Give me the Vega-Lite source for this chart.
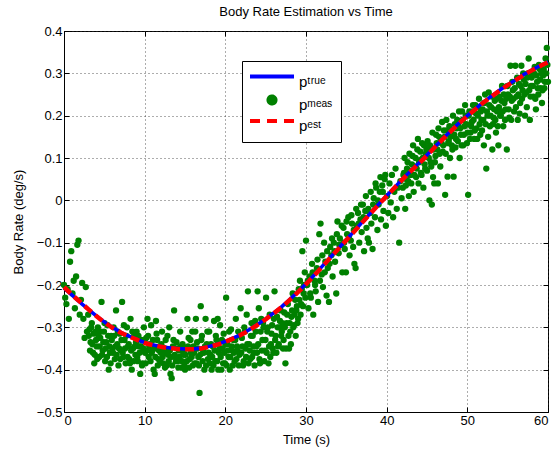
{
  "$schema": "https://vega.github.io/schema/vega-lite/v6.json",
  "autosize": {"type": "none"},
  "width": 484,
  "height": 381,
  "padding": {"left": 64, "top": 31, "right": 8, "bottom": 46},
  "background": "white",
  "title": {"text": "Body Rate Estimation vs Time", "font": "Liberation Sans", "fontSize": 13, "fontWeight": "normal", "color": "#000", "offset": 6},
  "config": {
    "view": {"stroke": "#000", "strokeWidth": 1},
    "axis": {"labelFont": "Liberation Sans", "titleFont": "Liberation Sans", "labelFontSize": 13, "titleFontSize": 13, "titleFontWeight": "normal", "labelColor": "#000", "titleColor": "#000", "domainColor": "#000", "tickColor": "#000", "gridColor": "#333", "gridDash": [1, 3], "gridOpacity": 0.8, "gridWidth": 1, "tickSize": -5, "labelPadding": 7},
    "legend": {"labelFont": "Liberation Sans", "labelFontSize": 15}
  },
  "datasets": {
    "meas": [
{"t":0,"v":-0.2},{"t":0.15,"v":-0.23},{"t":0.3,"v":-0.245},{"t":0.45,"v":-0.21},{"t":0.6,"v":-0.28},{"t":0.75,"v":-0.145},{"t":0.9,"v":-0.12},{"t":1.05,"v":-0.22},{"t":1.2,"v":-0.19},{"t":1.35,"v":-0.255},{"t":1.5,"v":-0.18},{"t":1.65,"v":-0.105},{"t":1.8,"v":-0.095},{"t":1.95,"v":-0.27},{"t":2.1,"v":-0.235},{"t":2.25,"v":-0.195},{"t":2.4,"v":-0.28},{"t":2.55,"v":-0.325},{"t":2.7,"v":-0.205},{"t":2.85,"v":-0.31},
{"t":3,"v":-0.27},{"t":3.15,"v":-0.305},{"t":3.3,"v":-0.335},{"t":3.45,"v":-0.29},{"t":3.6,"v":-0.36},{"t":3.75,"v":-0.385},{"t":3.9,"v":-0.31},{"t":4.05,"v":-0.345},{"t":4.2,"v":-0.3},{"t":4.35,"v":-0.37},{"t":4.5,"v":-0.325},{"t":4.65,"v":-0.24},{"t":4.8,"v":-0.355},{"t":4.95,"v":-0.31},{"t":5.1,"v":-0.38},{"t":5.25,"v":-0.335},{"t":5.4,"v":-0.295},{"t":5.55,"v":-0.4},{"t":5.7,"v":-0.36},{"t":5.85,"v":-0.32},
{"t":6,"v":-0.35},{"t":6.15,"v":-0.3},{"t":6.3,"v":-0.375},{"t":6.45,"v":-0.26},{"t":6.6,"v":-0.34},{"t":6.75,"v":-0.39},{"t":6.9,"v":-0.315},{"t":7.05,"v":-0.355},{"t":7.2,"v":-0.24},{"t":7.35,"v":-0.37},{"t":7.5,"v":-0.33},{"t":7.65,"v":-0.385},{"t":7.8,"v":-0.3},{"t":7.95,"v":-0.345},{"t":8.1,"v":-0.375},{"t":8.25,"v":-0.28},{"t":8.4,"v":-0.4},{"t":8.55,"v":-0.35},{"t":8.7,"v":-0.32},{"t":8.85,"v":-0.365},
{"t":9,"v":-0.31},{"t":9.15,"v":-0.38},{"t":9.3,"v":-0.345},{"t":9.45,"v":-0.41},{"t":9.6,"v":-0.33},{"t":9.75,"v":-0.385},{"t":9.9,"v":-0.3},{"t":10.05,"v":-0.36},{"t":10.2,"v":-0.325},{"t":10.35,"v":-0.28},{"t":10.5,"v":-0.37},{"t":10.65,"v":-0.34},{"t":10.8,"v":-0.295},{"t":10.95,"v":-0.355},{"t":11.1,"v":-0.4},{"t":11.25,"v":-0.41},{"t":11.4,"v":-0.285},{"t":11.55,"v":-0.33},{"t":11.7,"v":-0.375},{"t":11.85,"v":-0.345},
{"t":12,"v":-0.36},{"t":12.15,"v":-0.31},{"t":12.3,"v":-0.385},{"t":12.45,"v":-0.35},{"t":12.6,"v":-0.33},{"t":12.75,"v":-0.39},{"t":12.9,"v":-0.365},{"t":13.05,"v":-0.3},{"t":13.2,"v":-0.41},{"t":13.35,"v":-0.42},{"t":13.5,"v":-0.345},{"t":13.65,"v":-0.26},{"t":13.8,"v":-0.37},{"t":13.95,"v":-0.335},{"t":14.1,"v":-0.38},{"t":14.25,"v":-0.355},{"t":14.4,"v":-0.31},{"t":14.55,"v":-0.395},{"t":14.7,"v":-0.34},{"t":14.85,"v":-0.365},
{"t":15,"v":-0.4},{"t":15.15,"v":-0.35},{"t":15.3,"v":-0.28},{"t":15.45,"v":-0.325},{"t":15.6,"v":-0.375},{"t":15.75,"v":-0.36},{"t":15.9,"v":-0.31},{"t":16.05,"v":-0.345},{"t":16.2,"v":-0.385},{"t":16.35,"v":-0.28},{"t":16.5,"v":-0.335},{"t":16.65,"v":-0.37},{"t":16.8,"v":-0.455},{"t":16.95,"v":-0.25},{"t":17.1,"v":-0.32},{"t":17.25,"v":-0.355},{"t":17.4,"v":-0.4},{"t":17.55,"v":-0.28},{"t":17.7,"v":-0.34},{"t":17.85,"v":-0.375},
{"t":18,"v":-0.31},{"t":18.15,"v":-0.365},{"t":18.3,"v":-0.4},{"t":18.45,"v":-0.345},{"t":18.6,"v":-0.285},{"t":18.75,"v":-0.38},{"t":18.9,"v":-0.33},{"t":19.05,"v":-0.28},{"t":19.2,"v":-0.36},{"t":19.35,"v":-0.295},{"t":19.5,"v":-0.4},{"t":19.65,"v":-0.35},{"t":19.8,"v":-0.315},{"t":19.95,"v":-0.385},{"t":20.1,"v":-0.23},{"t":20.25,"v":-0.34},{"t":20.4,"v":-0.37},{"t":20.55,"v":-0.4},{"t":20.7,"v":-0.305},{"t":20.85,"v":-0.355},
{"t":21,"v":-0.33},{"t":21.15,"v":-0.38},{"t":21.3,"v":-0.28},{"t":21.45,"v":-0.345},{"t":21.6,"v":-0.31},{"t":21.75,"v":-0.365},{"t":21.9,"v":-0.255},{"t":22.05,"v":-0.325},{"t":22.2,"v":-0.39},{"t":22.35,"v":-0.3},{"t":22.5,"v":-0.35},{"t":22.65,"v":-0.27},{"t":22.8,"v":-0.215},{"t":22.95,"v":-0.34},{"t":23.1,"v":-0.375},{"t":23.25,"v":-0.29},{"t":23.4,"v":-0.32},{"t":23.55,"v":-0.36},{"t":23.7,"v":-0.285},{"t":23.85,"v":-0.345},
{"t":24,"v":-0.215},{"t":24.15,"v":-0.255},{"t":24.3,"v":-0.385},{"t":24.45,"v":-0.28},{"t":24.6,"v":-0.33},{"t":24.75,"v":-0.3},{"t":24.9,"v":-0.355},{"t":25.05,"v":-0.23},{"t":25.2,"v":-0.31},{"t":25.35,"v":-0.385},{"t":25.5,"v":-0.27},{"t":25.65,"v":-0.34},{"t":25.8,"v":-0.295},{"t":25.95,"v":-0.36},{"t":26.1,"v":-0.215},{"t":26.25,"v":-0.32},{"t":26.4,"v":-0.275},{"t":26.55,"v":-0.345},{"t":26.7,"v":-0.3},{"t":26.85,"v":-0.26},
{"t":27,"v":-0.31},{"t":27.15,"v":-0.35},{"t":27.3,"v":-0.265},{"t":27.45,"v":-0.385},{"t":27.6,"v":-0.29},{"t":27.75,"v":-0.245},{"t":27.9,"v":-0.35},{"t":28.05,"v":-0.31},{"t":28.2,"v":-0.275},{"t":28.35,"v":-0.22},{"t":28.5,"v":-0.295},{"t":28.65,"v":-0.235},{"t":28.8,"v":-0.26},{"t":28.95,"v":-0.29},{"t":29.1,"v":-0.21},{"t":29.25,"v":-0.19},{"t":29.4,"v":-0.245},{"t":29.55,"v":-0.12},{"t":29.7,"v":-0.22},{"t":29.85,"v":-0.17},
{"t":30,"v":-0.095},{"t":30.15,"v":-0.2},{"t":30.3,"v":-0.255},{"t":30.45,"v":-0.18},{"t":30.6,"v":-0.23},{"t":30.75,"v":-0.15},{"t":30.9,"v":-0.27},{"t":31.05,"v":-0.19},{"t":31.2,"v":-0.215},{"t":31.35,"v":-0.16},{"t":31.5,"v":-0.24},{"t":31.65,"v":-0.08},{"t":31.8,"v":-0.055},{"t":31.95,"v":-0.175},{"t":32.1,"v":-0.205},{"t":32.25,"v":-0.1},{"t":32.4,"v":-0.145},{"t":32.55,"v":-0.225},{"t":32.7,"v":-0.16},{"t":32.85,"v":-0.24},
{"t":33,"v":-0.11},{"t":33.15,"v":-0.13},{"t":33.3,"v":-0.18},{"t":33.45,"v":-0.1},{"t":33.6,"v":-0.145},{"t":33.75,"v":-0.22},{"t":33.9,"v":-0.05},{"t":34.05,"v":-0.125},{"t":34.2,"v":-0.09},{"t":34.35,"v":-0.105},{"t":34.5,"v":-0.17},{"t":34.65,"v":-0.065},{"t":34.8,"v":-0.115},{"t":34.95,"v":-0.17},{"t":35.1,"v":-0.08},{"t":35.25,"v":-0.04},{"t":35.4,"v":-0.13},{"t":35.55,"v":-0.095},{"t":35.7,"v":-0.055},{"t":35.85,"v":-0.11},
{"t":36,"v":-0.15},{"t":36.15,"v":-0.16},{"t":36.3,"v":-0.06},{"t":36.45,"v":-0.03},{"t":36.6,"v":-0.1},{"t":36.75,"v":-0.045},{"t":36.9,"v":-0.075},{"t":37.05,"v":-0.01},{"t":37.2,"v":-0.12},{"t":37.35,"v":-0.025},{"t":37.5,"v":-0.065},{"t":37.65,"v":-0.09},{"t":37.8,"v":-0.1},{"t":37.95,"v":-0.03},{"t":38.1,"v":-0.055},{"t":38.25,"v":-0.115},{"t":38.4,"v":0.005},{"t":38.55,"v":-0.04},{"t":38.7,"v":0.03},{"t":38.85,"v":-0.07},
{"t":39,"v":-0.01},{"t":39.15,"v":0.02},{"t":39.3,"v":-0.045},{"t":39.45,"v":0.035},{"t":39.6,"v":-0.025},{"t":39.75,"v":0.05},{"t":39.9,"v":-0.06},{"t":40.05,"v":0.01},{"t":40.2,"v":-0.03},{"t":40.35,"v":0.04},{"t":40.5,"v":-0.005},{"t":40.65,"v":0.06},{"t":40.8,"v":-0.04},{"t":40.95,"v":0.02},{"t":41.1,"v":0.075},{"t":41.25,"v":-0.02},{"t":41.4,"v":0.03},{"t":41.55,"v":-0.1},{"t":41.7,"v":0.045},{"t":41.85,"v":0.005},
{"t":42,"v":0.03},{"t":42.15,"v":0.065},{"t":42.3,"v":-0.02},{"t":42.45,"v":0.05},{"t":42.6,"v":0.09},{"t":42.75,"v":0.01},{"t":42.9,"v":0.07},{"t":43.05,"v":0.04},{"t":43.2,"v":0.105},{"t":43.35,"v":0.02},{"t":43.5,"v":0.08},{"t":43.65,"v":0.055},{"t":43.8,"v":0.12},{"t":43.95,"v":0.04},{"t":44.1,"v":0.095},{"t":44.25,"v":0.065},{"t":44.4,"v":0.135},{"t":44.55,"v":0.03},{"t":44.7,"v":0.085},{"t":44.85,"v":0.11},
{"t":45,"v":0.07},{"t":45.15,"v":0.12},{"t":45.3,"v":0},{"t":45.45,"v":0.09},{"t":45.6,"v":-0.01},{"t":45.75,"v":0.055},{"t":45.9,"v":0.04},{"t":46.05,"v":0.105},{"t":46.2,"v":0.135},{"t":46.35,"v":0.04},{"t":46.5,"v":0.15},{"t":46.65,"v":0.08},{"t":46.8,"v":0.135},{"t":46.95,"v":0.115},{"t":47.1,"v":0.165},{"t":47.25,"v":0.013},{"t":47.4,"v":0.19},{"t":47.55,"v":0.056},{"t":47.7,"v":0.14},{"t":47.85,"v":0.1},
{"t":48,"v":0.165},{"t":48.15,"v":0.12},{"t":48.3,"v":0.056},{"t":48.45,"v":0.18},{"t":48.6,"v":0.145},{"t":48.75,"v":0.19},{"t":48.9,"v":0.175},{"t":49.05,"v":0.1},{"t":49.2,"v":0.155},{"t":49.35,"v":0.21},{"t":49.5,"v":0.13},{"t":49.65,"v":0.175},{"t":49.8,"v":0.2},{"t":49.95,"v":0.135},{"t":50.1,"v":0.013},{"t":50.25,"v":0.21},{"t":50.4,"v":0.16},{"t":50.55,"v":0.185},{"t":50.7,"v":0.225},{"t":50.85,"v":0.145},
{"t":51,"v":0.225},{"t":51.15,"v":0.17},{"t":51.3,"v":0.2},{"t":51.45,"v":0.24},{"t":51.6,"v":0.155},{"t":51.75,"v":0.19},{"t":51.9,"v":0.215},{"t":52.05,"v":0.13},{"t":52.2,"v":0.25},{"t":52.35,"v":0.075},{"t":52.5,"v":0.2},{"t":52.65,"v":0.255},{"t":52.8,"v":0.175},{"t":52.95,"v":0.22},{"t":53.1,"v":0.12},{"t":53.25,"v":0.195},{"t":53.4,"v":0.235},{"t":53.55,"v":0.16},{"t":53.7,"v":0.21},{"t":53.85,"v":0.13},
{"t":54,"v":0.245},{"t":54.15,"v":0.2},{"t":54.3,"v":0.27},{"t":54.45,"v":0.175},{"t":54.6,"v":0.23},{"t":54.75,"v":0.215},{"t":54.9,"v":0.12},{"t":55.05,"v":0.25},{"t":55.2,"v":0.195},{"t":55.35,"v":0.318},{"t":55.5,"v":0.235},{"t":55.65,"v":0.26},{"t":55.8,"v":0.21},{"t":55.95,"v":0.318},{"t":56.1,"v":0.245},{"t":56.25,"v":0.19},{"t":56.4,"v":0.275},{"t":56.55,"v":0.23},{"t":56.7,"v":0.318},{"t":56.85,"v":0.26},
{"t":57,"v":0.285},{"t":57.15,"v":0.2},{"t":57.3,"v":0.255},{"t":57.45,"v":0.29},{"t":57.6,"v":0.335},{"t":57.75,"v":0.19},{"t":57.9,"v":0.27},{"t":58.05,"v":0.3},{"t":58.2,"v":0.245},{"t":58.35,"v":0.315},{"t":58.5,"v":0.215},{"t":58.65,"v":0.28},{"t":58.8,"v":0.25},{"t":58.95,"v":0.31},{"t":59.1,"v":0.265},{"t":59.25,"v":0.23},{"t":59.4,"v":0.295},{"t":59.55,"v":0.265},{"t":59.7,"v":0.335},{"t":59.85,"v":0.36},{"t":60,"v":0.28},
{"t":3.075,"v":-0.32},{"t":3.225,"v":-0.355},{"t":3.375,"v":-0.3},{"t":3.525,"v":-0.34},{"t":3.675,"v":-0.315},{"t":3.825,"v":-0.365},{"t":3.975,"v":-0.33},{"t":4.125,"v":-0.375},{"t":4.275,"v":-0.32},{"t":4.425,"v":-0.345},{"t":4.575,"v":-0.31},{"t":4.725,"v":-0.365},{"t":4.875,"v":-0.335},{"t":5.025,"v":-0.29},{"t":5.175,"v":-0.35},{"t":5.325,"v":-0.37},{"t":5.475,"v":-0.32},{"t":5.625,"v":-0.345},{"t":5.775,"v":-0.385},{"t":5.925,"v":-0.33},
{"t":6.075,"v":-0.36},{"t":6.225,"v":-0.32},{"t":6.375,"v":-0.345},{"t":6.525,"v":-0.365},{"t":6.675,"v":-0.31},{"t":6.825,"v":-0.35},{"t":6.975,"v":-0.375},{"t":7.125,"v":-0.33},{"t":7.275,"v":-0.36},{"t":7.425,"v":-0.295},{"t":7.575,"v":-0.35},{"t":7.725,"v":-0.32},{"t":7.875,"v":-0.37},{"t":8.025,"v":-0.34},{"t":8.175,"v":-0.385},{"t":8.325,"v":-0.355},{"t":8.475,"v":-0.31},{"t":8.625,"v":-0.38},{"t":8.775,"v":-0.345},{"t":8.925,"v":-0.335},
{"t":9.075,"v":-0.37},{"t":9.225,"v":-0.32},{"t":9.375,"v":-0.36},{"t":9.525,"v":-0.345},{"t":9.675,"v":-0.39},{"t":9.825,"v":-0.35},{"t":9.975,"v":-0.33},{"t":10.125,"v":-0.385},{"t":10.275,"v":-0.355},{"t":10.425,"v":-0.32},{"t":10.575,"v":-0.345},{"t":10.725,"v":-0.38},{"t":10.875,"v":-0.36},{"t":11.025,"v":-0.33},{"t":11.175,"v":-0.35},{"t":11.325,"v":-0.37},{"t":11.475,"v":-0.315},{"t":11.625,"v":-0.39},{"t":11.775,"v":-0.355},{"t":11.925,"v":-0.38},
{"t":12.075,"v":-0.34},{"t":12.225,"v":-0.37},{"t":12.375,"v":-0.355},{"t":12.525,"v":-0.395},{"t":12.675,"v":-0.36},{"t":12.825,"v":-0.32},{"t":12.975,"v":-0.38},{"t":13.125,"v":-0.355},{"t":13.275,"v":-0.37},{"t":13.425,"v":-0.39},{"t":13.575,"v":-0.33},{"t":13.725,"v":-0.365},{"t":13.875,"v":-0.38},{"t":14.025,"v":-0.35},{"t":14.175,"v":-0.395},{"t":14.325,"v":-0.37},{"t":14.475,"v":-0.345},{"t":14.625,"v":-0.38},{"t":14.775,"v":-0.36},{"t":14.925,"v":-0.39},
{"t":15.075,"v":-0.365},{"t":15.225,"v":-0.38},{"t":15.375,"v":-0.345},{"t":15.525,"v":-0.395},{"t":15.675,"v":-0.33},{"t":15.825,"v":-0.37},{"t":15.975,"v":-0.39},{"t":16.125,"v":-0.36},{"t":16.275,"v":-0.31},{"t":16.425,"v":-0.385},{"t":16.575,"v":-0.35},{"t":16.725,"v":-0.39},{"t":16.875,"v":-0.365},{"t":17.025,"v":-0.33},{"t":17.175,"v":-0.38},{"t":17.325,"v":-0.36},{"t":17.475,"v":-0.345},{"t":17.625,"v":-0.39},{"t":17.775,"v":-0.31},{"t":17.925,"v":-0.36},
{"t":18.075,"v":-0.385},{"t":18.225,"v":-0.34},{"t":18.375,"v":-0.37},{"t":18.525,"v":-0.39},{"t":18.675,"v":-0.355},{"t":18.825,"v":-0.32},{"t":18.975,"v":-0.38},{"t":19.125,"v":-0.4},{"t":19.275,"v":-0.35},{"t":19.425,"v":-0.37},{"t":19.575,"v":-0.33},{"t":19.725,"v":-0.385},{"t":19.875,"v":-0.36},{"t":20.025,"v":-0.34},{"t":20.175,"v":-0.39},{"t":20.325,"v":-0.355},{"t":20.475,"v":-0.31},{"t":20.625,"v":-0.37},{"t":20.775,"v":-0.345},{"t":20.925,"v":-0.39},
{"t":21.075,"v":-0.36},{"t":21.225,"v":-0.33},{"t":21.375,"v":-0.375},{"t":21.525,"v":-0.355},{"t":21.675,"v":-0.39},{"t":21.825,"v":-0.32},{"t":21.975,"v":-0.36},{"t":22.125,"v":-0.345},{"t":22.275,"v":-0.38},{"t":22.425,"v":-0.31},{"t":22.575,"v":-0.37},{"t":22.725,"v":-0.34},{"t":22.875,"v":-0.385},{"t":23.025,"v":-0.355},{"t":23.175,"v":-0.32},{"t":23.325,"v":-0.37},{"t":23.475,"v":-0.345},{"t":23.625,"v":-0.39},{"t":23.775,"v":-0.31},{"t":23.925,"v":-0.36},
{"t":24.075,"v":-0.34},{"t":24.225,"v":-0.375},{"t":24.375,"v":-0.31},{"t":24.525,"v":-0.355},{"t":24.675,"v":-0.29},{"t":24.825,"v":-0.38},{"t":24.975,"v":-0.33},{"t":25.125,"v":-0.36},{"t":25.275,"v":-0.3},{"t":25.425,"v":-0.345},{"t":25.575,"v":-0.37},{"t":25.725,"v":-0.315},{"t":25.875,"v":-0.35},{"t":26.025,"v":-0.28},{"t":26.175,"v":-0.33},{"t":26.325,"v":-0.36},{"t":26.475,"v":-0.3},{"t":26.625,"v":-0.34},{"t":26.775,"v":-0.285},{"t":26.925,"v":-0.32},
{"t":27.075,"v":-0.29},{"t":27.225,"v":-0.33},{"t":27.375,"v":-0.3},{"t":27.525,"v":-0.35},{"t":27.675,"v":-0.27},{"t":27.825,"v":-0.32},{"t":27.975,"v":-0.29},{"t":28.125,"v":-0.34},{"t":28.275,"v":-0.26},{"t":28.425,"v":-0.3},{"t":28.575,"v":-0.27},{"t":28.725,"v":-0.32},{"t":28.875,"v":-0.25},{"t":29.025,"v":-0.28},{"t":29.175,"v":-0.235},{"t":29.325,"v":-0.27},{"t":29.475,"v":-0.21},{"t":29.625,"v":-0.25},{"t":29.775,"v":-0.2},{"t":29.925,"v":-0.23},
{"t":30.225,"v":-0.19},{"t":30.525,"v":-0.22},{"t":30.825,"v":-0.17},{"t":31.125,"v":-0.2},{"t":31.425,"v":-0.14},{"t":31.725,"v":-0.19},{"t":32.025,"v":-0.13},{"t":32.325,"v":-0.17},{"t":32.625,"v":-0.12},{"t":32.925,"v":-0.15},{"t":33.225,"v":-0.09},{"t":33.525,"v":-0.12},{"t":33.825,"v":-0.08},{"t":34.125,"v":-0.105},{"t":34.425,"v":-0.06},{"t":34.725,"v":-0.1},{"t":35.025,"v":-0.05},{"t":35.325,"v":-0.085},{"t":35.625,"v":-0.035},{"t":35.925,"v":-0.07},{"t":36.225,"v":-0.02},{"t":36.525,"v":-0.055},{"t":36.825,"v":-0.01},{"t":37.125,"v":-0.04},{"t":37.425,"v":0.01},{"t":37.725,"v":-0.02},{"t":38.025,"v":0.02},{"t":38.325,"v":-0.01},{"t":38.625,"v":0.04},{"t":38.925,"v":0},{"t":39.225,"v":0.055},{"t":39.525,"v":0.02},{"t":39.825,"v":0.06},
{"t":42.075,"v":0.06},{"t":42.225,"v":0.1},{"t":42.375,"v":0.035},{"t":42.525,"v":0.075},{"t":42.675,"v":0.045},{"t":42.825,"v":0.11},{"t":42.975,"v":0.06},{"t":43.125,"v":0.085},{"t":43.275,"v":0.13},{"t":43.425,"v":0.06},{"t":43.575,"v":0.1},{"t":43.725,"v":0.075},{"t":43.875,"v":0.145},{"t":44.025,"v":0.09},{"t":44.175,"v":0.115},{"t":44.325,"v":0.06},{"t":44.475,"v":0.1},{"t":44.625,"v":0.13},{"t":44.775,"v":0.075},{"t":44.925,"v":0.12},
{"t":45.075,"v":0.14},{"t":45.225,"v":0.1},{"t":45.375,"v":0.13},{"t":45.525,"v":0.08},{"t":45.675,"v":0.16},{"t":45.825,"v":0.12},{"t":45.975,"v":0.09},{"t":46.125,"v":0.155},{"t":46.275,"v":0.12},{"t":46.425,"v":0.17},{"t":46.575,"v":0.11},{"t":46.725,"v":0.14},{"t":46.875,"v":0.185},{"t":47.025,"v":0.13},{"t":47.175,"v":0.15},{"t":47.325,"v":0.11},{"t":47.475,"v":0.165},{"t":47.625,"v":0.135},{"t":47.775,"v":0.175},{"t":47.925,"v":0.15},
{"t":48.075,"v":0.13},{"t":48.225,"v":0.2},{"t":48.375,"v":0.155},{"t":48.525,"v":0.125},{"t":48.675,"v":0.17},{"t":48.825,"v":0.14},{"t":48.975,"v":0.21},{"t":49.125,"v":0.17},{"t":49.275,"v":0.13},{"t":49.425,"v":0.19},{"t":49.575,"v":0.155},{"t":49.725,"v":0.225},{"t":49.875,"v":0.18},{"t":50.025,"v":0.16},{"t":50.175,"v":0.2},{"t":50.325,"v":0.145},{"t":50.475,"v":0.175},{"t":50.625,"v":0.21},{"t":50.775,"v":0.19},{"t":50.925,"v":0.165},
{"t":51.075,"v":0.205},{"t":51.225,"v":0.145},{"t":51.375,"v":0.22},{"t":51.525,"v":0.18},{"t":51.675,"v":0.21},{"t":51.825,"v":0.165},{"t":51.975,"v":0.19},{"t":52.125,"v":0.23},{"t":52.275,"v":0.18},{"t":52.425,"v":0.21},{"t":52.575,"v":0.15},{"t":52.725,"v":0.225},{"t":52.875,"v":0.2},{"t":53.025,"v":0.245},{"t":53.175,"v":0.18},{"t":53.325,"v":0.215},{"t":53.475,"v":0.19},{"t":53.625,"v":0.24},{"t":53.775,"v":0.175},{"t":53.925,"v":0.22},
{"t":54.075,"v":0.2},{"t":54.225,"v":0.235},{"t":54.375,"v":0.21},{"t":54.525,"v":0.25},{"t":54.675,"v":0.19},{"t":54.825,"v":0.24},{"t":54.975,"v":0.27},{"t":55.125,"v":0.215},{"t":55.275,"v":0.245},{"t":55.425,"v":0.19},{"t":55.575,"v":0.28},{"t":55.725,"v":0.24},{"t":55.875,"v":0.265},{"t":56.025,"v":0.22},{"t":56.175,"v":0.29},{"t":56.325,"v":0.25},{"t":56.475,"v":0.205},{"t":56.625,"v":0.27},{"t":56.775,"v":0.24},{"t":56.925,"v":0.3},
{"t":57.075,"v":0.25},{"t":57.225,"v":0.275},{"t":57.375,"v":0.22},{"t":57.525,"v":0.3},{"t":57.675,"v":0.26},{"t":57.825,"v":0.245},{"t":57.975,"v":0.29},{"t":58.125,"v":0.27},{"t":58.275,"v":0.3},{"t":58.425,"v":0.24},{"t":58.575,"v":0.295},{"t":58.725,"v":0.265},{"t":58.875,"v":0.32},{"t":59.025,"v":0.285},{"t":59.175,"v":0.3},{"t":59.325,"v":0.26},{"t":59.475,"v":0.31},{"t":59.625,"v":0.28},{"t":59.775,"v":0.3},{"t":59.925,"v":0.32}
    ],
    "curve": [
{"t":0,"ptrue":-0.207,"pest":-0.205},{"t":1,"ptrue":-0.224,"pest":-0.223},{"t":2,"ptrue":-0.241,"pest":-0.24},{"t":3,"ptrue":-0.257,"pest":-0.257},{"t":4,"ptrue":-0.273,"pest":-0.273},{"t":5,"ptrue":-0.287,"pest":-0.288},{"t":6,"ptrue":-0.3,"pest":-0.301},{"t":7,"ptrue":-0.311,"pest":-0.312},{"t":8,"ptrue":-0.32,"pest":-0.321},{"t":9,"ptrue":-0.328,"pest":-0.329},{"t":10,"ptrue":-0.336,"pest":-0.337},{"t":11,"ptrue":-0.341,"pest":-0.342},{"t":12,"ptrue":-0.345,"pest":-0.346},{"t":13,"ptrue":-0.348,"pest":-0.349},{"t":14,"ptrue":-0.35,"pest":-0.351},{"t":15,"ptrue":-0.351,"pest":-0.352},{"t":16,"ptrue":-0.351,"pest":-0.352},{"t":17,"ptrue":-0.349,"pest":-0.35},{"t":18,"ptrue":-0.345,"pest":-0.346},{"t":19,"ptrue":-0.34,"pest":-0.341},{"t":20,"ptrue":-0.333,"pest":-0.334},{"t":21,"ptrue":-0.325,"pest":-0.326},{"t":22,"ptrue":-0.316,"pest":-0.317},{"t":23,"ptrue":-0.305,"pest":-0.306},{"t":24,"ptrue":-0.293,"pest":-0.294},{"t":25,"ptrue":-0.28,"pest":-0.281},{"t":26,"ptrue":-0.266,"pest":-0.267},{"t":27,"ptrue":-0.251,"pest":-0.252},{"t":28,"ptrue":-0.234,"pest":-0.235},{"t":29,"ptrue":-0.216,"pest":-0.217},{"t":30,"ptrue":-0.197,"pest":-0.198},{"t":31,"ptrue":-0.177,"pest":-0.178},{"t":32,"ptrue":-0.156,"pest":-0.157},{"t":33,"ptrue":-0.135,"pest":-0.136},{"t":34,"ptrue":-0.114,"pest":-0.115},{"t":35,"ptrue":-0.093,"pest":-0.094},{"t":36,"ptrue":-0.072,"pest":-0.073},{"t":37,"ptrue":-0.051,"pest":-0.052},{"t":38,"ptrue":-0.03,"pest":-0.031},{"t":39,"ptrue":-0.009,"pest":-0.01},{"t":40,"ptrue":0.011,"pest":0.01},{"t":41,"ptrue":0.031,"pest":0.03},{"t":42,"ptrue":0.051,"pest":0.05},{"t":43,"ptrue":0.07,"pest":0.069},{"t":44,"ptrue":0.088,"pest":0.087},{"t":45,"ptrue":0.107,"pest":0.106},{"t":46,"ptrue":0.127,"pest":0.126},{"t":47,"ptrue":0.146,"pest":0.145},{"t":48,"ptrue":0.165,"pest":0.164},{"t":49,"ptrue":0.183,"pest":0.182},{"t":50,"ptrue":0.2,"pest":0.199},{"t":51,"ptrue":0.216,"pest":0.215},{"t":52,"ptrue":0.232,"pest":0.231},{"t":53,"ptrue":0.246,"pest":0.245},{"t":54,"ptrue":0.26,"pest":0.259},{"t":55,"ptrue":0.273,"pest":0.272},{"t":56,"ptrue":0.285,"pest":0.284},{"t":57,"ptrue":0.297,"pest":0.296},{"t":58,"ptrue":0.308,"pest":0.307},{"t":59,"ptrue":0.318,"pest":0.317},{"t":60,"ptrue":0.327,"pest":0.326}
    ]
  },
  "layer": [
    {
      "data": {"name": "meas"},
      "mark": {"type": "point", "filled": true, "size": 40, "opacity": 1},
      "encoding": {
        "x": {"field": "t", "type": "quantitative", "scale": {"domain": [0, 60], "nice": false, "zero": false},
          "axis": {"orient": "bottom", "values": [0, 10, 20, 30, 40, 50, 60], "title": "Time (s)", "titlePadding": 6, "grid": true, "format": "d"}},
        "y": {"field": "v", "type": "quantitative", "scale": {"domain": [-0.5, 0.4], "nice": false, "zero": false},
          "axis": {"orient": "left", "values": [-0.5, -0.4, -0.3, -0.2, -0.1, 0, 0.1, 0.2, 0.3, 0.4], "title": "Body Rate (deg/s)", "titlePadding": 11, "grid": true, "format": "~g"}},
        "color": {"datum": "pᵐᵉᵃˢ", "type": "nominal",
          "scale": {"domain": ["pᵗʳᵘᵉ", "pᵐᵉᵃˢ", "pᵉˢᵗ"], "range": ["#0000ff", "#008000", "#ff0000"]},
          "legend": {
            "title": null, "orient": "none", "legendX": 178, "legendY": 30,
            "strokeColor": "#000", "fillColor": "#fff", "padding": 8,
            "symbolType": "stroke", "symbolSize": 100, "symbolStrokeWidth": 4,
            "labelOffset": 5, "rowPadding": -2.5,
            "encode": {
              "symbols": {"update": {
                "shape": {"signal": "datum.index === 1 ? 'circle' : 'M-4.4,0H4.4'"},
                "size": {"signal": "datum.index === 1 ? 50 : 100"},
                "x": {"value": 22},
                "fill": {"signal": "datum.index === 1 ? '#008000' : 'transparent'"},
                "stroke": {"signal": "datum.index === 0 ? '#0000ff' : datum.index === 2 ? '#ff0000' : 'transparent'"},
                "strokeWidth": {"value": 4},
                "strokeDash": {"signal": "datum.index === 2 ? [10, 7] : [1, 0]"},
                "opacity": {"value": 1}
              }},
              "labels": {"update": {
                "x": {"value": 49},
                "dy": {"value": 5}
              }}
            }
          }}
      }
    },
    {
      "data": {"name": "curve"},
      "mark": {"type": "line", "strokeWidth": 3.5, "interpolate": "monotone"},
      "encoding": {
        "x": {"field": "t", "type": "quantitative", "axis": {"orient": "top", "values": [0, 10, 20, 30, 40, 50, 60], "labels": false, "title": null, "grid": false, "domain": false}},
        "y": {"field": "ptrue", "type": "quantitative", "axis": {"orient": "right", "values": [-0.5, -0.4, -0.3, -0.2, -0.1, 0, 0.1, 0.2, 0.3, 0.4], "labels": false, "title": null, "grid": false, "domain": false}},
        "color": {"datum": "pᵗʳᵘᵉ", "type": "nominal",
          "legend": {
            "title": null, "orient": "none", "legendX": 178, "legendY": 30,
            "strokeColor": "#000", "fillColor": "#fff", "padding": 8,
            "symbolType": "stroke", "symbolSize": 100, "symbolStrokeWidth": 4,
            "labelOffset": 5, "rowPadding": -2.5,
            "encode": {
              "symbols": {"update": {
                "shape": {"signal": "datum.index === 1 ? 'circle' : 'M-4.4,0H4.4'"},
                "size": {"signal": "datum.index === 1 ? 50 : 100"},
                "x": {"value": 22},
                "fill": {"signal": "datum.index === 1 ? '#008000' : 'transparent'"},
                "stroke": {"signal": "datum.index === 0 ? '#0000ff' : datum.index === 2 ? '#ff0000' : 'transparent'"},
                "strokeWidth": {"value": 4},
                "strokeDash": {"signal": "datum.index === 2 ? [10, 7] : [1, 0]"},
                "opacity": {"value": 1}
              }},
              "labels": {"update": {
                "x": {"value": 49},
                "dy": {"value": 5}
              }}
            }
          }}
      }
    },
    {
      "data": {"name": "curve"},
      "mark": {"type": "line", "strokeWidth": 4.5, "strokeDash": [9, 5], "interpolate": "monotone"},
      "encoding": {
        "x": {"field": "t", "type": "quantitative", "axis": null},
        "y": {"field": "pest", "type": "quantitative", "axis": null},
        "color": {"datum": "pᵉˢᵗ", "type": "nominal",
          "legend": {
            "title": null, "orient": "none", "legendX": 178, "legendY": 30,
            "strokeColor": "#000", "fillColor": "#fff", "padding": 8,
            "symbolType": "stroke", "symbolSize": 100, "symbolStrokeWidth": 4,
            "labelOffset": 5, "rowPadding": -2.5,
            "encode": {
              "symbols": {"update": {
                "shape": {"signal": "datum.index === 1 ? 'circle' : 'M-4.4,0H4.4'"},
                "size": {"signal": "datum.index === 1 ? 50 : 100"},
                "x": {"value": 22},
                "fill": {"signal": "datum.index === 1 ? '#008000' : 'transparent'"},
                "stroke": {"signal": "datum.index === 0 ? '#0000ff' : datum.index === 2 ? '#ff0000' : 'transparent'"},
                "strokeWidth": {"value": 4},
                "strokeDash": {"signal": "datum.index === 2 ? [10, 7] : [1, 0]"},
                "opacity": {"value": 1}
              }},
              "labels": {"update": {
                "x": {"value": 49},
                "dy": {"value": 5}
              }}
            }
          }}
      }
    }
  ],
  "resolve": {"axis": {"x": "independent", "y": "independent"}}
}
